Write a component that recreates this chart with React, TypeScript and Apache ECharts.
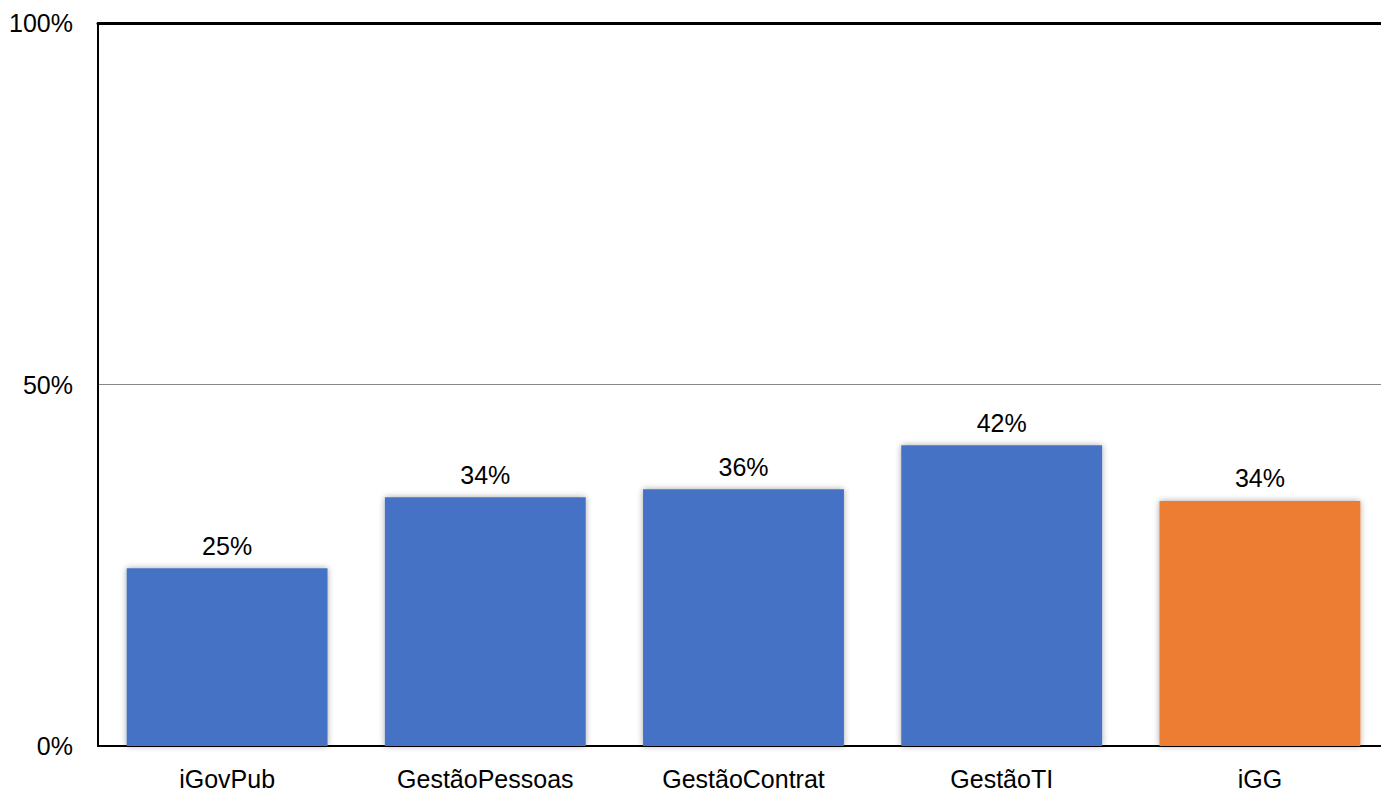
import React, { useEffect, useRef } from "react";
import * as echarts from "echarts";

const categories = ["iGovPub", "GestãoPessoas", "GestãoContrat", "GestãoTI", "iGG"];
const values = [24.6, 34.4, 35.5, 41.6, 33.9];
const labels = ["25%", "34%", "36%", "42%", "34%"];
const barColors = ["#4472C4", "#4472C4", "#4472C4", "#4472C4", "#ED7D31"];

const FONT = "Liberation Sans, Arial, sans-serif";

export default function App() {
  const ref = useRef<HTMLDivElement>(null);
  useEffect(() => {
    const chart = echarts.init(ref.current!, null, { renderer: "svg" });
    chart.setOption({
      animation: false,
      backgroundColor: "#ffffff",
      textStyle: { fontFamily: FONT },
      grid: { left: 98, right: 0, top: 23, bottom: 46 },
      xAxis: [
        {
          type: "category",
          data: categories,
          axisLine: { show: true, lineStyle: { color: "#000000", width: 2 } },
          axisTick: { show: false },
          axisLabel: { fontSize: 25, color: "#000000", margin: 20, fontFamily: FONT },
        },
        {
          type: "category",
          position: "top",
          data: categories,
          axisLine: { show: true, lineStyle: { color: "#000000", width: 3 } },
          axisTick: { show: false },
          axisLabel: { show: false },
        },
      ],
      yAxis: {
        type: "value",
        min: 0,
        max: 100,
        interval: 50,
        axisLine: { show: true, lineStyle: { color: "#000000", width: 2 } },
        axisTick: { show: false },
        splitLine: { show: true, lineStyle: { color: "#888888", width: 1 } },
        axisLabel: {
          fontSize: 25,
          color: "#000000",
          margin: 25,
          formatter: (v: number) => v + "%",
          fontFamily: FONT,
        },
      },
      series: [
        {
          type: "bar",
          barWidth: "77.8%",
          data: values.map((v, i) => ({
            value: v,
            itemStyle: { color: barColors[i] },
          })),
          itemStyle: {
            shadowBlur: 6,
            shadowColor: "rgba(0,0,0,0.35)",
            shadowOffsetX: 0,
            shadowOffsetY: 0,
          },
          label: {
            show: true,
            position: "top",
            distance: 10,
            fontSize: 25,
            color: "#000000",
            fontFamily: FONT,
            formatter: (p: any) => labels[p.dataIndex],
          },
        },
      ],
    });
    return () => chart.dispose();
  }, []);
  return (
    <div
      ref={ref}
      style={{ position: "fixed", left: 0, top: 0, width: 1389, height: 792 }}
    />
  );
}
